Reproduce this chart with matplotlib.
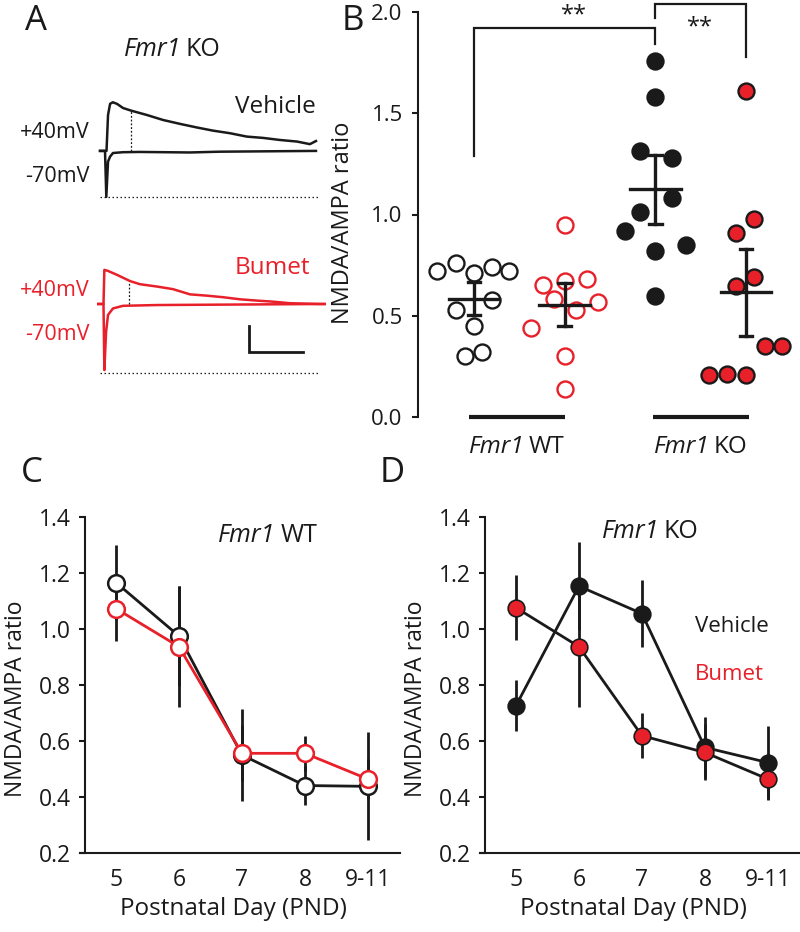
import matplotlib
matplotlib.use("Agg")
import matplotlib.pyplot as plt
import numpy as np

plt.rcParams['font.family'] = ['Open Sans', 'DejaVu Sans']

RED = '#e8202a'
INK = '#1a1a1a'

# ---- panel A: example traces (time in ms, current in pA) ----
veh_pos_t = [0, 6, 7.4, 9.3, 11.8, 15.7, 21.3, 28.7, 43.5, 58.3, 74, 89.8, 104.6,
             120.4, 136, 151, 166.7, 182.4, 194.4, 200]
veh_pos_i = [0, 0, 138, 181, 187, 181, 165, 155, 138, 119, 104, 90, 78,
             68, 55, 50, 42, 36, 26, 38]
veh_neg_t = [0, 4.6, 5.8, 7.4, 9.3, 12, 21.3, 37, 83, 111, 200]
veh_neg_i = [0, 0, -177, -41, -22, -8, -5, -4, -6, -3, 0]
bum_pos_t = [-1.6, 3.2, 4, 7.4, 15.7, 27.8, 37, 52.8, 67.6, 83.3, 99, 114,
             129.6, 145.4, 160, 176, 203.7, 208]
bum_pos_i = [0, 0, 131, 127, 112, 88, 76, 67, 57, 37, 32, 26, 18, 13, 9, 3, 0, 0]
bum_neg_t = [-1.6, 3.2, 4, 5.6, 7.4, 12, 21.3, 52.8, 208]
bum_neg_i = [0, 0, -254, -107, -42, -17, -7, -4, 0]
veh_marker_t, veh_marker_i = 28.7, 155
bum_marker_t, bum_marker_i = 27, 86

# ---- panel B: NMDA/AMPA ratio per cell ----
group_x = [1, 2, 3, 4]
wt_veh_y = [0.72, 0.76, 0.71, 0.74, 0.72, 0.53, 0.58, 0.45, 0.30, 0.32]
wt_veh_dx = [-0.41, -0.20, 0.0, 0.20, 0.39, -0.20, 0.20, 0.0, -0.10, 0.09]
wt_bum_y = [0.95, 0.65, 0.67, 0.68, 0.585, 0.53, 0.57, 0.44, 0.30, 0.14]
wt_bum_dx = [0, -0.24, 0, 0.25, -0.12, 0.13, 0.37, -0.37, 0, 0]
ko_veh_y = [1.76, 1.58, 1.315, 1.28, 1.08, 1.01, 0.92, 0.85, 0.82, 0.60]
ko_veh_dx = [0, 0, -0.165, 0.18, 0.18, -0.165, -0.33, 0.34, 0, 0]
ko_bum_y = [1.61, 0.98, 0.91, 0.69, 0.645, 0.35, 0.35, 0.205, 0.21, 0.205]
ko_bum_dx = [0, 0.09, -0.11, 0.09, -0.11, 0.21, 0.40, -0.41, -0.21, 0]
group_mean = [0.585, 0.555, 1.125, 0.615]
group_sem = [0.08, 0.105, 0.17, 0.215]
genotype_centers = [1.47, 3.5]
genotype_labels = ['WT', 'KO']

# ---- panels C, D: ratio across development ----
pnd_labels = ['5', '6', '7', '8', '9-11']
wt_veh_mean = [1.166, 0.975, 0.55, 0.441, 0.438]
wt_veh_err = [0.135, 0.18, 0.165, 0.07, 0.193]
wt_bum_mean = [1.073, 0.937, 0.556, 0.556, 0.464]
wt_bum_err = [0.115, 0.217, 0.10, 0.062, 0.07]
ko_veh_mean = [0.726, 1.153, 1.055, 0.577, 0.523]
ko_veh_err = [0.092, 0.158, 0.12, 0.11, 0.13]
ko_bum_mean = [1.076, 0.937, 0.619, 0.559, 0.464]
ko_bum_err = [0.117, 0.217, 0.08, 0.10, 0.074]

W, H = 800, 932
fig = plt.figure(figsize=(W / 100, H / 100), dpi=100)
renderer = fig.canvas.get_renderer()


def box(left, top, right, bottom):
    return [left / W, 1 - bottom / H, (right - left) / W, (bottom - top) / H]


def ftext(x, y, s, **kw):
    return fig.text(x / W, 1 - y / H, s, **kw)


def text_width(s, size, style='normal'):
    t = fig.text(0, 0, s, fontsize=size, style=style)
    w = t.get_window_extent(renderer).width
    t.remove()
    return w


def gene_label(x, y, rest, size):
    # "Fmr1" in italics followed by an upright genotype, centred on x
    w1 = text_width('Fmr1', size, 'italic')
    w2 = text_width(rest, size)
    gap = size * 0.27
    left = x - (w1 + gap + w2) / 2
    ftext(left, y, 'Fmr1', fontsize=size, style='italic', ha='left', va='center',
          color=INK)
    ftext(left + w1 + gap, y, rest, fontsize=size, ha='left', va='center', color=INK)


# panel letters
for letter, (lx, ly) in zip('ABCD', [(36, 21), (353, 21), (32, 473), (392, 473)]):
    ftext(lx, ly, letter, fontsize=25, ha='center', va='center', color=INK)

# ---- A ----
trace_sets = [
    (box(90, 95, 330, 205), (-208, 215), veh_pos_t, veh_pos_i, veh_neg_t, veh_neg_i,
     veh_marker_t, veh_marker_i, -177, INK),
    (box(90, 260, 330, 380), (-292, 169), bum_pos_t, bum_pos_i, bum_neg_t, bum_neg_i,
     bum_marker_t, bum_marker_i, -264, RED),
]
for pos, ylim, pt, pi, nt, ni, mt, mi, floor, col in trace_sets:
    ax = fig.add_axes(pos)
    ax.set_xlim(-9.3, 213)
    ax.set_ylim(*ylim)
    ax.axis('off')
    ax.plot(pt, pi, color=col, lw=1.8, solid_joinstyle='round')
    ax.plot(nt, ni, color=col, lw=1.8, solid_joinstyle='round')
    ax.plot([mt, mt], [0, mi], color=INK, lw=0.9, ls=(0, (1.5, 1.5)))
    ax.plot([0, 203], [floor, floor], color=INK, lw=0.9, ls=(0, (1.2, 2.0)))
    if col == RED:
        # scale bar
        ax.plot([138, 138, 188], [-85, -186, -186], color=INK, lw=2,
                solid_joinstyle='miter')

gene_label(172, 50, 'KO', 18)
ftext(316, 107, 'Vehicle', fontsize=17.5, ha='right', va='center', color=INK)
ftext(310, 268, 'Bumet', fontsize=17.5, ha='right', va='center', color=RED)
ftext(90, 133, '+40mV', fontsize=15.5, ha='right', va='center', color=INK)
ftext(90, 177, '-70mV', fontsize=15.5, ha='right', va='center', color=INK)
ftext(90, 290, '+40mV', fontsize=15.5, ha='right', va='center', color=RED)
ftext(90, 334, '-70mV', fontsize=15.5, ha='right', va='center', color=RED)

# ---- B ----
axb = fig.add_axes(box(418, 12, 800, 417))
axb.set_xlim(0.382, 4.596)
axb.set_ylim(0, 2.0)
for s in ['top', 'right', 'bottom']:
    axb.spines[s].set_visible(False)
axb.spines['left'].set_linewidth(1.5)
axb.spines['left'].set_color(INK)
axb.set_yticks([0, 0.5, 1.0, 1.5, 2.0])
axb.set_yticklabels(['0.0', '0.5', '1.0', '1.5', '2.0'])
axb.tick_params(axis='y', direction='out', length=4, width=1.5, pad=7,
                labelsize=16, colors=INK)
axb.set_xticks([])
axb.set_ylabel('NMDA/AMPA ratio', fontsize=17, color=INK)
axb.yaxis.set_label_coords(-0.165, 0.48)

series_b = [
    (wt_veh_y, wt_veh_dx, 'white', INK),
    (wt_bum_y, wt_bum_dx, 'white', RED),
    (ko_veh_y, ko_veh_dx, INK, INK),
    (ko_bum_y, ko_bum_dx, RED, INK),
]
for gx, (ys, dxs, fc, ec) in zip(group_x, series_b):
    xs = [gx + d for d in dxs]
    axb.plot(xs, ys, 'o', ms=11.5, mfc=fc, mec=ec, mew=1.7, ls='none',
             zorder=2, clip_on=False)
for gx, m, e in zip(group_x, group_mean, group_sem):
    axb.plot([gx - 0.28, gx + 0.28], [m, m], color=INK, lw=2.4, zorder=3)
    axb.plot([gx, gx], [m - e, m + e], color=INK, lw=2.4, zorder=3)
    for yy in (m - e, m + e):
        axb.plot([gx - 0.07, gx + 0.07], [yy, yy], color=INK, lw=2.4, zorder=3)

for c, lab in zip(genotype_centers, genotype_labels):
    axb.plot([c - 0.53, c + 0.53], [0, 0], color=INK, lw=3, clip_on=False,
             solid_capstyle='butt')
    px = axb.transData.transform((c, 0))[0]
    gene_label(px, 447, lab, 17.5)

# significance brackets
axb.plot([1, 1, 3, 3], [1.29, 1.92, 1.92, 1.84], color=INK, lw=1.6,
         clip_on=False, solid_joinstyle='miter')
axb.plot([3, 3, 4, 4], [1.97, 2.04, 2.04, 1.78], color=INK, lw=1.6,
         clip_on=False, solid_joinstyle='miter')
axb.text(2.10, 1.985, '**', fontsize=17, ha='center', va='center', color=INK)
axb.text(3.49, 1.925, '**', fontsize=17, ha='center', va='center', color=INK)


# ---- C, D ----
def dev_axes(left_px, rest, title_xy):
    ax = fig.add_axes(box(left_px - 5, 517, left_px + 315, 853))
    ax.set_xlim(-0.571, 4.51)
    ax.set_ylim(0.2, 1.4)
    for s in ['top', 'right']:
        ax.spines[s].set_visible(False)
    ax.spines['left'].set_position(('data', -0.49))
    for s in ['left', 'bottom']:
        ax.spines[s].set_linewidth(1.5)
        ax.spines[s].set_color(INK)
    ax.set_yticks([0.2, 0.4, 0.6, 0.8, 1.0, 1.2, 1.4])
    ax.set_yticklabels(['0.2', '0.4', '0.6', '0.8', '1.0', '1.2', '1.4'])
    ax.tick_params(axis='y', direction='out', length=4, width=1.5, pad=6,
                   labelsize=16.5, colors=INK)
    ax.set_xticks(range(len(pnd_labels)))
    ax.set_xticklabels(pnd_labels)
    ax.tick_params(axis='x', length=0, pad=11, labelsize=16.5, colors=INK)
    ax.set_ylabel('NMDA/AMPA ratio', fontsize=16.5, color=INK)
    ax.yaxis.set_label_coords(-0.163, 0.46)
    ax.set_xlabel('Postnatal Day (PND)', fontsize=17.5, color=INK)
    ax.xaxis.set_label_coords(0.478, -0.13)
    gene_label(title_xy[0], title_xy[1], rest, 18)
    return ax


x = np.arange(len(pnd_labels))

axc = dev_axes(85, 'WT', (268, 536))
axc.errorbar(x, wt_veh_mean, yerr=wt_veh_err, fmt='none', ecolor=INK, elinewidth=2,
             capsize=0, zorder=1)
axc.errorbar(x, wt_bum_mean, yerr=wt_bum_err, fmt='none', ecolor=INK, elinewidth=2,
             capsize=0, zorder=1)
axc.plot(x, wt_veh_mean, '-o', color=INK, lw=2, ms=12, mfc='white', mec=INK,
         mew=1.8, zorder=2)
axc.plot(x, wt_bum_mean, '-o', color=RED, lw=2, ms=12, mfc='white', mec=RED,
         mew=1.8, zorder=3)

axd = dev_axes(485, 'KO', (650, 531))
axd.errorbar(x, ko_veh_mean, yerr=ko_veh_err, fmt='none', ecolor=INK, elinewidth=2,
             capsize=0, zorder=1)
axd.errorbar(x, ko_bum_mean, yerr=ko_bum_err, fmt='none', ecolor=INK, elinewidth=2,
             capsize=0, zorder=1)
axd.plot(x, ko_veh_mean, '-o', color=INK, lw=2, ms=12, mfc=INK, mec=INK,
         mew=1.2, zorder=2)
axd.plot(x, ko_bum_mean, '-', color=INK, lw=2, zorder=2)
axd.plot(x, ko_bum_mean, 'o', ms=12, mfc=RED, mec=INK, mew=1.2, zorder=3)
ftext(695, 627, 'Vehicle', fontsize=16, ha='left', va='center', color=INK)
ftext(695, 675, 'Bumet', fontsize=16, ha='left', va='center', color=RED)

fig.savefig('out.png', dpi=100)
